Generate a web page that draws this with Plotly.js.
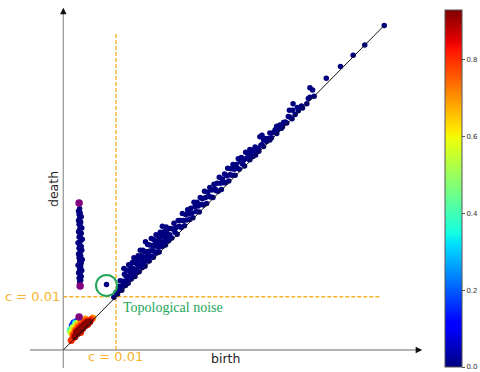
<!DOCTYPE html>
<html><head><meta charset="utf-8">
<script src="https://cdn.plot.ly/plotly-3.0.1.min.js"></script>
<style>html,body{margin:0;padding:0;background:#fff}#chart{width:480px;height:372px}</style>
</head><body><div id="chart"></div>
<script>
// threshold c
const threshold = 0.01;

// main band of pairs near the diagonal (birth, death)
const bandBirthLow = [0.0096,0.0100,0.0103,0.0105,0.0107,0.0108,0.0110,0.0111,0.0113,0.0114,0.0115,0.0116,0.0117,0.0118,0.0119,0.0120,0.0121,0.0122,0.0123,0.0124,0.0125,0.0126,0.0127,0.0128,0.0129,0.0130,0.0131,0.0132,0.0133,0.0134,0.0135,0.0136,0.0137,0.0138,0.0139,0.0140,0.0141,0.0142,0.0143,0.0144,0.0145,0.0146,0.0147,0.0148,0.0149,0.0150,0.0151,0.0152,0.0153,0.0154,0.0155,0.0156,0.0157,0.0158,0.0159,0.0160,0.0161,0.0162,0.0163,0.0164,0.0165,0.0166,0.0167,0.0168,0.0169,0.0170,0.0171,0.0172,0.0173,0.0174,0.0175,0.0176,0.0177,0.0178,0.0179,0.0180,0.0181,0.0182,0.0183,0.0184,0.0185,0.0186,0.0187,0.0188,0.0189,0.0190,0.0191,0.0192,0.0193,0.0194,0.0195,0.0196,0.0197,0.0198,0.0199,0.0200];
const bandDeathLow = [0.0099,0.0108,0.0105,0.0119,0.0112,0.0130,0.0120,0.0112,0.0129,0.0120,0.0153,0.0142,0.0129,0.0121,0.0139,0.0150,0.0130,0.0137,0.0125,0.0160,0.0149,0.0133,0.0145,0.0156,0.0133,0.0142,0.0164,0.0153,0.0142,0.0173,0.0151,0.0138,0.0163,0.0149,0.0169,0.0146,0.0160,0.0177,0.0157,0.0147,0.0169,0.0187,0.0157,0.0177,0.0166,0.0155,0.0187,0.0174,0.0165,0.0185,0.0157,0.0203,0.0175,0.0184,0.0167,0.0198,0.0175,0.0185,0.0167,0.0197,0.0176,0.0186,0.0209,0.0175,0.0196,0.0186,0.0174,0.0207,0.0195,0.0184,0.0204,0.0216,0.0182,0.0196,0.0204,0.0193,0.0213,0.0184,0.0204,0.0221,0.0194,0.0213,0.0202,0.0232,0.0195,0.0213,0.0222,0.0204,0.0212,0.0197,0.0231,0.0222,0.0207,0.0215,0.0228,0.0205];

const bandBirthMid = [0.0202,0.0204,0.0206,0.0208,0.0210,0.0212,0.0214,0.0216,0.0218,0.0220,0.0222,0.0224,0.0226,0.0228,0.0230,0.0232,0.0234,0.0236,0.0238,0.0240,0.0242,0.0244,0.0246,0.0248,0.0250,0.0252,0.0254,0.0256,0.0258,0.0260,0.0262,0.0264,0.0266,0.0268,0.0270,0.0272,0.0274,0.0276,0.0278,0.0280,0.0282,0.0284,0.0286,0.0288,0.0290,0.0292,0.0294,0.0296,0.0298,0.0300,0.0302,0.0304,0.0306,0.0308,0.0310,0.0312,0.0314,0.0316,0.0318,0.0320,0.0322,0.0324,0.0326,0.0328,0.0330,0.0332,0.0334,0.0336,0.0338,0.0340,0.0342,0.0344,0.0346,0.0348,0.0350,0.0352,0.0354,0.0356,0.0358,0.0360];
const bandDeathMid = [0.0216,0.0228,0.0210,0.0227,0.0238,0.0221,0.0230,0.0217,0.0243,0.0232,0.0243,0.0230,0.0256,0.0243,0.0233,0.0254,0.0244,0.0263,0.0255,0.0245,0.0266,0.0257,0.0248,0.0277,0.0269,0.0260,0.0277,0.0270,0.0259,0.0286,0.0273,0.0284,0.0272,0.0298,0.0286,0.0275,0.0296,0.0288,0.0305,0.0287,0.0300,0.0286,0.0311,0.0302,0.0299,0.0313,0.0298,0.0324,0.0313,0.0301,0.0321,0.0314,0.0330,0.0314,0.0327,0.0341,0.0317,0.0329,0.0340,0.0328,0.0348,0.0339,0.0328,0.0348,0.0341,0.0359,0.0339,0.0353,0.0361,0.0349,0.0356,0.0345,0.0371,0.0360,0.0369,0.0358,0.0376,0.0366,0.0374,0.0363];

const bandBirthHigh = [0.0354,0.0358,0.0361,0.0364,0.0367,0.0370,0.0373,0.0377,0.0377,0.0380,0.0383,0.0386,0.0389,0.0392,0.0399,0.0402,0.0411,0.0414,0.0418,0.0421,0.0427,0.0429,0.0434,0.0435,0.0436,0.0452,0.0454,0.0462,0.0465,0.0468,0.0468,0.0473,0.0476,0.0499,0.0526,0.0550,0.0572,0.0609,0.0395,0.0405,0.0408,0.0424,0.0440,0.0446,0.0380,0.0371,0.0444,0.0365,0.0375,0.0392,0.0405,0.0416,0.0430];
const bandDeathHigh = [0.0357,0.0363,0.0375,0.0381,0.0372,0.0378,0.0400,0.0403,0.0385,0.0394,0.0397,0.0391,0.0397,0.0407,0.0408,0.0413,0.0422,0.0416,0.0427,0.0428,0.0438,0.0450,0.0434,0.0450,0.0462,0.0458,0.0454,0.0462,0.0472,0.0474,0.0492,0.0488,0.0476,0.0510,0.0532,0.0553,0.0572,0.0609,0.0398,0.0406,0.0414,0.0426,0.0442,0.0449,0.0382,0.0373,0.0455,0.0366,0.0384,0.0394,0.0420,0.0419,0.0437];

// vertical column of early-born features
const columnBirth = [0.0031,0.0033,0.0030,0.0034,0.0032,0.0029,0.0035,0.0031,0.0033,0.0028,0.0034,0.0031,0.0036,0.0030,0.0033,0.0029,0.0032,0.0035,0.0030,0.0034,0.0031,0.0028,0.0033,0.0036,0.0030,0.0032,0.0034,0.0029,0.0031,0.0035,0.0032,0.0030,0.0033,0.0029,0.0031,0.0034,0.0030,0.0032,0.0029,0.0031];
const columnDeath = [0.0128,0.0131,0.0135,0.0138,0.0142,0.0145,0.0149,0.0152,0.0156,0.0159,0.0163,0.0166,0.0170,0.0173,0.0177,0.0180,0.0184,0.0187,0.0191,0.0194,0.0198,0.0201,0.0205,0.0208,0.0212,0.0215,0.0219,0.0222,0.0226,0.0229,0.0233,0.0236,0.0240,0.0243,0.0247,0.0250,0.0254,0.0257,0.0261,0.0265];

// purple highlighted points
const purpleBirth = [0.0030,0.0032,0.0030];
const purpleDeath = [0.0276,0.0120,0.0062];

// isolated topological noise point
const noiseBirth = [0.0082];
const noiseDeath = [0.0123];

// dense cluster near origin, coloured by density
const clusterBirth = [0.0017,0.0020,0.0027, 0.0013,0.0023, 0.0014,0.0018,0.0035, 0.0016,0.0020,0.0025,0.0030, 0.0018,0.0022,0.0027,0.0032,0.0037,0.0042,0.0056, 0.0018,0.0020,0.0024,0.0029,0.0034,0.0039,0.0044,0.0050,0.0053,0.0015,0.0033,0.0046, 0.0022,0.0027,0.0032,0.0037,0.0042,0.0047,0.0030,0.0035,0.0040,0.0025,0.0045,0.0028,0.0034,0.0039,0.0050];
const clusterDeath = [0.0046,0.0051,0.0055, 0.0037,0.0050, 0.0034,0.0042,0.0057, 0.0032,0.0040,0.0047,0.0052, 0.0030,0.0038,0.0045,0.0050,0.0054,0.0058,0.0060, 0.0022,0.0028,0.0036,0.0042,0.0047,0.0051,0.0055,0.0054,0.0057,0.0018,0.0033,0.0048, 0.0025,0.0031,0.0036,0.0041,0.0046,0.0050,0.0038,0.0043,0.0048,0.0033,0.0052,0.0036,0.0040,0.0045,0.0053];
const clusterDensity = [0.15,0.15,0.15, 0.38,0.38, 0.5,0.5,0.5, 0.6,0.6,0.6,0.6, 0.7,0.7,0.7,0.7,0.7,0.7,0.7, 0.8,0.8,0.8,0.8,0.8,0.8,0.8,0.8,0.8,0.8,0.8,0.8, 0.92,0.92,0.92,0.92,0.92,0.92,0.92,0.92,0.92,0.92,0.92,0.92,0.92,0.92,0.92];

const colorbarTicks = [0, 0.2, 0.4, 0.6, 0.8];
const colorbarTickText = ['0.0','0.2','0.4','0.6','0.8'];

const jet = [[0,'rgb(0,0,128)'],[0.11,'rgb(0,0,255)'],[0.125,'rgb(0,0,255)'],[0.34,'rgb(0,219,255)'],[0.35,'rgb(0,229,247)'],[0.375,'rgb(20,255,226)'],[0.64,'rgb(238,255,8)'],[0.65,'rgb(247,245,0)'],[0.66,'rgb(255,236,0)'],[0.89,'rgb(255,18,0)'],[0.91,'rgb(232,0,0)'],[1,'rgb(128,0,0)']];

const bandBirth = bandBirthLow.concat(bandBirthMid, bandBirthHigh);
const bandDeath = bandDeathLow.concat(bandDeathMid, bandDeathHigh);
const diagMax = Math.max(...bandBirth, ...bandDeath.filter((d,i)=>d===bandBirth[i]));

const ORANGE = '#F6B42C';
const GREEN = '#23a65a';
const NAVY = '#000080';

const traces = [
  {type:'scatter', mode:'markers', x: bandBirth, y: bandDeath, marker:{color:NAVY, size:5.5}, hoverinfo:'skip'},
  {type:'scatter', mode:'markers', x: columnBirth, y: columnDeath, marker:{color:NAVY, size:5.5}, hoverinfo:'skip'},
  {type:'scatter', mode:'markers', x: noiseBirth, y: noiseDeath, marker:{color:NAVY, size:5.5}, hoverinfo:'skip'},
  {type:'scatter', mode:'markers', x: clusterBirth, y: clusterDeath, hoverinfo:'skip',
    marker:{size:7, color: clusterDensity, colorscale: jet, cmin:0, cmax:0.93, showscale:true,
      colorbar:{x:445/480, xanchor:'left', xpad:0, y:5/372, yanchor:'bottom', ypad:0,
        len:357, lenmode:'pixels', thickness:17, thicknessmode:'pixels',
        outlinewidth:1, outlinecolor:'#555',
        tickvals: colorbarTicks, ticktext: colorbarTickText, ticks:'outside', ticklen:3, tickwidth:1, tickcolor:'#555',
        tickfont:{family:'DejaVu Sans, sans-serif', size:7, color:'#333'}}}},
  {type:'scatter', mode:'markers', x: purpleBirth, y: purpleDeath, marker:{color:'#800080', size:7.5}, hoverinfo:'skip'},
  {type:'scatter', mode:'lines', x:[0, diagMax], y:[0, diagMax], line:{color:'#111', width:1}, hoverinfo:'skip'}
];

const layout = {
  width:480, height:372, autosize:false,
  margin:{l:0, r:0, t:0, b:0},
  paper_bgcolor:'#fff', plot_bgcolor:'#fff',
  showlegend:false,
  xaxis:{range:[-0.01201, 0.07907], visible:false, fixedrange:true},
  yaxis:{range:[-0.004128, 0.065666], visible:false, fixedrange:true},
  shapes:[
    {type:'line', xref:'x', yref:'y', x0:0, x1:0.060, y0:threshold, y1:threshold, layer:'below', line:{color:ORANGE, width:1.4, dash:'4px,2px'}},
    {type:'line', xref:'x', yref:'y', x0:threshold, x1:threshold, y0:0, y1:0.0597, layer:'below', line:{color:ORANGE, width:1.4, dash:'4px,2px'}},
    {type:'line', xref:'x', yref:'y', x0:-0.0063, x1:0.0676, y0:0, y1:0, layer:'below', line:{color:'#9a9a9a', width:1.3}},
    {type:'line', xref:'x', yref:'y', x0:0, x1:0, y0:-0.0034, y1:0.0638, layer:'below', line:{color:'#9a9a9a', width:1.3}},
    {type:'circle', xref:'x', yref:'y', xsizemode:'pixel', ysizemode:'pixel', xanchor:noiseBirth[0], yanchor:noiseDeath[0],
      x0:-10.5, x1:10.5, y0:-11.5, y1:9.5, line:{color:GREEN, width:2}}
  ],
  annotations:[
    {xref:'x', yref:'y', x:0.0681, y:0, ax:-5, ay:0, text:'', showarrow:true, arrowhead:2, arrowsize:1, arrowwidth:1.3, arrowcolor:'#111', standoff:0},
    {xref:'x', yref:'y', x:0, y:0.0642, ax:0, ay:5, text:'', showarrow:true, arrowhead:2, arrowsize:1, arrowwidth:1.3, arrowcolor:'#111', standoff:0},
    {xref:'paper', yref:'paper', x:225.5/480, y:(372-358.5)/372, xanchor:'center', yanchor:'middle', text:'birth', showarrow:false,
      font:{family:'DejaVu Sans, sans-serif', size:12.5, color:'#222'}},
    {xref:'paper', yref:'paper', x:53/480, y:(372-189)/372, xanchor:'center', yanchor:'middle', text:'death', textangle:-90, showarrow:false,
      font:{family:'DejaVu Sans, sans-serif', size:12.5, color:'#222'}},
    {xref:'paper', yref:'y', x:62/480, y:threshold, xanchor:'right', yanchor:'middle', text:'c = ' + threshold, showarrow:false,
      font:{family:'DejaVu Sans, sans-serif', size:13, color:ORANGE}},
    {xref:'x', yref:'paper', x:threshold, y:(372-356.5)/372, xanchor:'center', yanchor:'middle', text:'c = ' + threshold, showarrow:false,
      font:{family:'DejaVu Sans, sans-serif', size:13, color:ORANGE}},
    {xref:'paper', yref:'paper', x:121/480, y:(372-307.5)/372, xanchor:'left', yanchor:'middle', text:'Topological noise', showarrow:false,
      font:{family:'Liberation Serif, Times New Roman, serif', size:14, color:GREEN}}
  ]
};

Plotly.newPlot('chart', traces, layout, {displayModeBar:false, staticPlot:true});
</script>
</body></html>
